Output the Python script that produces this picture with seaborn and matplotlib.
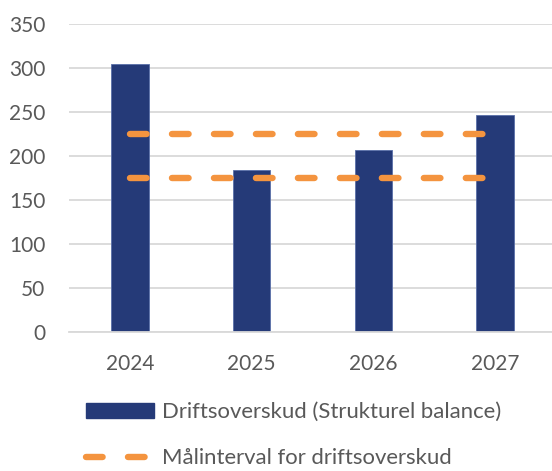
import numpy as np
import pandas as pd
import matplotlib
matplotlib.use("Agg")
import matplotlib.pyplot as plt
import seaborn as sns
from matplotlib.patches import Patch
from matplotlib.lines import Line2D

years = ["2024", "2025", "2026", "2027"]
driftsoverskud = [305, 184, 207, 247]
maal_upper = [225, 225, 225, 225]
maal_lower = [175, 175, 175, 175]
yticks = [0, 50, 100, 150, 200, 250, 300, 350]
bar_label = "Driftsoverskud (Strukturel balance)"
line_label = "Målinterval for driftsoverskud"

BAR = "#253A78"
ORANGE = "#F4943F"
GRID = "#D9D9D9"
TEXT = "#595959"
DASH = (2.6, 3.97)

sns.set_theme(style="white")
plt.rcParams["font.family"] = ["Lato", "DejaVu Sans"]

df = pd.DataFrame({"year": years, "value": driftsoverskud})
pos = np.arange(len(years))
lines = pd.DataFrame({"x": np.concatenate([pos, pos]),
                      "y": maal_upper + maal_lower,
                      "g": ["u"] * len(years) + ["l"] * len(years)})

fig = plt.figure(figsize=(5.52, 4.71), dpi=100)
ax = fig.add_axes([69 / 552, 1 - 332 / 471, 487 / 552, (332 - 24) / 471])

sns.barplot(data=df, x="year", y="value", color=BAR, width=0.31, ax=ax,
            saturation=1, edgecolor="#5A6FA8", linewidth=0.6)
for g, sub in lines.groupby("g"):
    ax.plot(sub["x"], sub["y"], color=ORANGE, lw=4.6, dashes=DASH,
            dash_capstyle="round", zorder=3)

ax.set_xlim(-0.5, len(years) - 0.5)
ax.set_ylim(0, 350)
ax.set_yticks(yticks)
ax.yaxis.grid(True, color=GRID, lw=1.3)
ax.set_axisbelow(True)
for s in ["top", "right", "left"]:
    ax.spines[s].set_visible(False)
ax.spines["bottom"].set_color(GRID)
ax.spines["bottom"].set_linewidth(1.3)
ax.set_xlabel("")
ax.set_ylabel("")
ax.tick_params(axis="both", length=0, labelsize=15, colors=TEXT)
ax.tick_params(axis="x", pad=16)
ax.tick_params(axis="y", pad=17)

handles = [Patch(facecolor=BAR, edgecolor=BAR),
           Line2D([], [], color=ORANGE, lw=4.6, dashes=DASH, dash_capstyle="round")]
leg = fig.legend(handles, [bar_label, line_label], loc="upper left",
                 bbox_to_anchor=(86 / 552, 1 - 402 / 471), frameon=False,
                 borderpad=0, borderaxespad=0,
                 fontsize=15.9, labelcolor=TEXT, handlelength=3.08, handleheight=0.68,
                 handletextpad=0.36, labelspacing=1.2)

fig.savefig("out.png", dpi=100)
